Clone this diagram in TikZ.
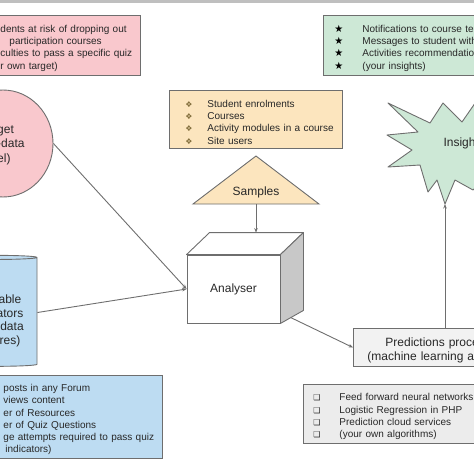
\documentclass[tikz,border=0pt]{standalone}
\usepackage{fontspec}
\setmainfont{Liberation Sans}
\newfontfamily\symfont{DejaVu Sans}
\usetikzlibrary{shapes.geometric, arrows.meta, calc}

\definecolor{pinkfill}{RGB}{249,200,205}
\definecolor{greenfill}{RGB}{205,232,214}
\definecolor{orangefill}{RGB}{252,229,190}
\definecolor{bluefill}{RGB}{189,220,242}
\definecolor{predfill}{RGB}{242,242,242}
\definecolor{algofill}{RGB}{236,236,236}
\definecolor{cubeside}{RGB}{200,200,200}
\definecolor{edgegray}{RGB}{110,110,110}
\definecolor{textgray}{RGB}{40,40,40}
\definecolor{bulletbrown}{RGB}{130,110,60}

% one list line: symbol in a box of width #1, then the text
\newcommand{\bul}[3][22pt]{\mbox{\makebox[#1][l]{\symfont\footnotesize #2}#3}}

\begin{document}
\begin{tikzpicture}
        [x=1pt, y=-1pt, font=\fontsize{10}{12.3}\selectfont, text=textgray,
        listbox/.style={draw=edgegray, line width=0.9pt, anchor=north west, align=left, text height=12.5pt},
        bigtext/.style={font=\fontsize{12}{14.5}\selectfont},
        shapeline/.style={draw=edgegray, line width=0.9pt},
        arrow/.style={edgegray, line width=0.9pt, -{Stealth[length=4.5pt, width=3.5pt]}}]

        \useasboundingbox (0,0) rectangle (474,474);
        \clip (0,0) rectangle (474,474);
        \fill[black!25] (0,0) rectangle (474,2.5);

        % lists on top
        \node[listbox, fill=pinkfill, minimum width=141, minimum height=60, text width=139, inner xsep=1] (targets) at (-1,15)
            {dents at risk of dropping out\\\hspace*{9pt}participation courses\\culties to pass a specific quiz\\r own target)};
        \node[listbox, fill=greenfill, minimum height=60, text width=200, inner xsep=11] (actions) at (323,15)
            {\bul[28pt]{\normalsize\color{black}★}{Notifications to course te}\\\bul[28pt]{\normalsize\color{black}★}{Messages to student with}\\\bul[28pt]{\normalsize\color{black}★}{Activities recommendatio}\\\bul[28pt]{\normalsize\color{black}★}{(your insights)}};
        \node[listbox, fill=orangefill, minimum width=173, minimum height=58, text width=141, inner xsep=16] (samplelist) at (169,90)
            {\bul{\color{bulletbrown}❖}{Student enrolments}\\\bul{\color{bulletbrown}❖}{Courses}\\\bul{\color{bulletbrown}❖}{Activity modules in a course}\\\bul{\color{bulletbrown}❖}{Site users}};

        % target ellipse
        \node[ellipse, shapeline, fill=pinkfill, minimum width=100, minimum height=107] (target) at (3,143.5) {};
        \node[bigtext, align=left, anchor=west, inner sep=0] (targettext) at (-3,145) {get\\-data\\el)};

        % indicators cylinder
        \node[cylinder, shape border rotate=90, aspect=0.62, shapeline, fill=bluefill, minimum width=84, minimum height=111] (indicators) at (-5,312.5) {};
        \node[bigtext, align=center, inner sep=0, font=\fontsize{12}{13.5}\selectfont] (indtext) at (10,321) {able\\ators\\-data\\res)};

        % samples triangle
        \draw[shapeline, fill=orangefill] (193,204) -- (256,156) -- (319,204) -- cycle;
        \node[bigtext] (samples) at (256,192) {Samples};
        \coordinate (samples base) at (256,204);

        % analyser cube
        \node[shapeline, fill=white, bigtext, minimum width=93, minimum height=68] (analyser) at (233.5,289) {Analyser};
        \coordinate (back nw) at ($(analyser.north west)+(23,-22)$);
        \coordinate (back ne) at ($(analyser.north east)+(23,-22)$);
        \coordinate (back se) at ($(analyser.south east)+(23,-13)$);
        \draw[shapeline, fill=white, line join=round] (analyser.north west) -- (back nw) -- (back ne) -- (analyser.north east) -- cycle;
        \draw[shapeline, fill=cubeside, line join=round] (analyser.north east) -- (back ne) -- (back se) -- (analyser.south east) -- cycle;

        % insights burst
        \draw[shapeline, fill=greenfill, line join=round] (443,103) -- (462,122) -- (480,96) -- (490,122) -- (530,115) -- (500,145)
            -- (530,175) -- (492,172) -- (473,190) -- (455,180) -- (445,204) -- (437,180) -- (428,192) -- (420,165)
            -- (388,167) -- (412,150) -- (387,135) -- (418,132) -- (388,103) -- (430,123) -- cycle;
        \coordinate (burst tip) at (445,204);
        \node[bigtext, anchor=west] (insights) at (440,143) {Insight};

        % predictions and algorithms
        \node[listbox, fill=predfill, bigtext, minimum height=37, text width=200, inner xsep=14, text height=14.5pt] (predictions) at (353,328)
            {\hspace*{18pt}Predictions proce\\(machine learning al};
        \node[listbox, fill=algofill, minimum height=59, text width=200, inner xsep=10] (algorithms) at (303,384)
            {\bul[26pt]{❑}{Feed forward neural networks}\\\bul[26pt]{❑}{Logistic Regression in PHP}\\\bul[26pt]{❑}{Prediction cloud services}\\\bul[26pt]{❑}{(your own algorithms)}};

        % indicator list
        \node[listbox, fill=bluefill, minimum width=163, minimum height=83, text width=155, inner xsep=4] (indlist) at (-1,375)
            {posts in any Forum\\views content\\er of Resources\\er of Quiz Questions\\ge attempts required to pass quiz\\\hspace*{2pt}indicators)};

        % connectors
        \draw[arrow] (target.east) -- (analyser.west);
        \draw[arrow] (indicators.east) -- (analyser.west);
        \draw[arrow] (samples base) -- (samples base |- back nw);
        \draw[arrow] ($(analyser.south east)!0.45!(back se)$) -- (predictions.west);
        \draw[arrow] (burst tip |- predictions.north) -- (burst tip);

\end{tikzpicture}
\end{document}
